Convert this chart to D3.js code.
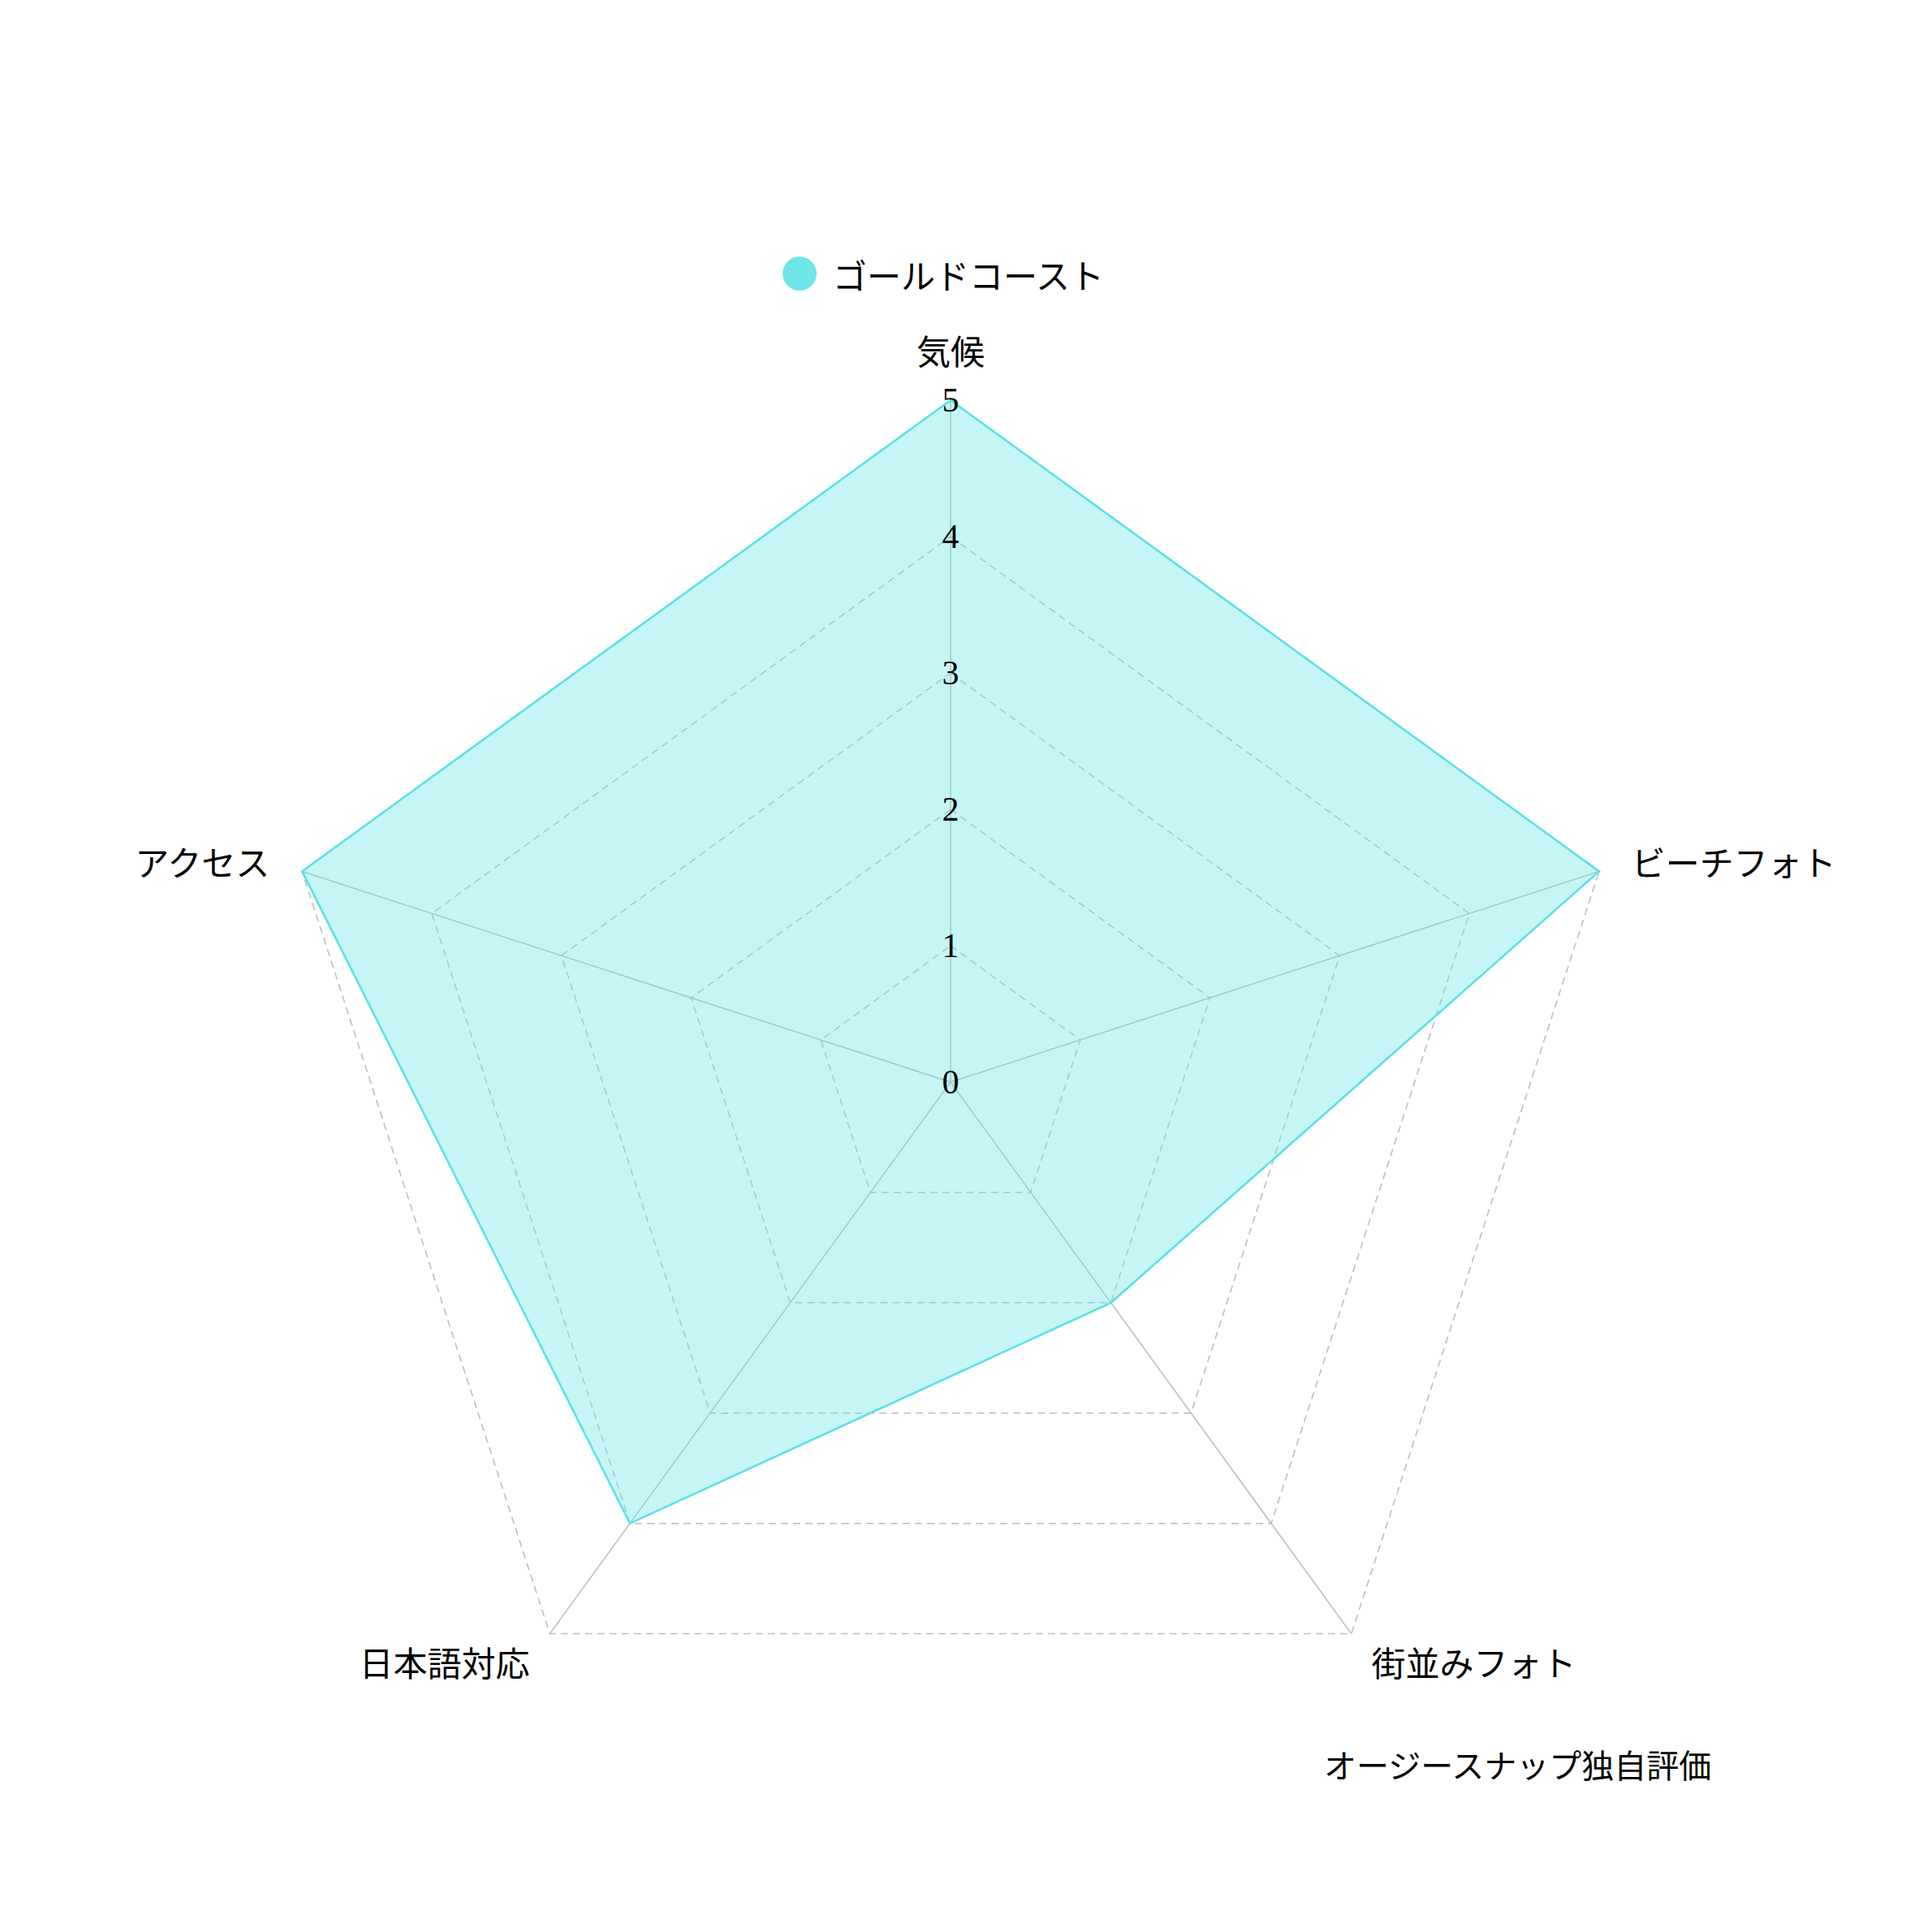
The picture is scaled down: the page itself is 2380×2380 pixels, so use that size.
<!DOCTYPE html>
<html>
<head>
<meta charset="utf-8">
<script src="https://cdn.jsdelivr.net/npm/d3@7/dist/d3.min.js"></script>
<style>
  html, body { margin: 0; padding: 0; background: #ffffff; }
  svg { display: block; }
</style>
</head>
<body>
<script>
// ---- data ----
const categories = ["気候", "ビーチフォト", "街並みフォト", "日本語対応", "アクセス"];
const seriesName = "ゴールドコースト";
const seriesValues = [5, 5, 2, 4, 5];
const tickValues = [0, 1, 2, 3, 4, 5];
const subtitle = "オージースナップ独自評価";

// ---- layout ----
const W = 2380, H = 2380;
const cx = 1171, cy = 1333, R = 840;
const jp = "'Noto Sans CJK JP', 'Noto Sans', sans-serif";
const serif = "'Liberation Serif', 'DejaVu Serif', serif";
const colFill = "#6ee6e6";
const colStroke = "#5ce1e6";
const gridCol = "#bbbbbb";

const svg = d3.select("body").append("svg")
  .attr("width", W).attr("height", H)
  .attr("viewBox", `0 0 ${W} ${H}`);
svg.append("rect").attr("width", W).attr("height", H).attr("fill", "#fff");

const r = d3.scaleLinear().domain([0, 5]).range([0, R]);
const ang = (i) => i * 2 * Math.PI / categories.length;
const pt = (i, rad) => [cx + rad * Math.sin(ang(i)), cy - rad * Math.cos(ang(i))];

const g = svg.append("g");

// rings (dashed)
tickValues.filter(v => v > 0).forEach(v => {
  const pts = categories.map((c, i) => pt(i, r(v)));
  g.append("path")
    .attr("d", d3.line()(pts) + "Z")
    .attr("fill", "none")
    .attr("stroke", gridCol)
    .attr("stroke-width", 1.5)
    .attr("stroke-dasharray", "9,6");
});

// spokes
categories.forEach((c, i) => {
  const [x, y] = pt(i, r(5));
  g.append("line")
    .attr("x1", cx).attr("y1", cy).attr("x2", x).attr("y2", y)
    .attr("stroke", gridCol).attr("stroke-width", 1.5);
});

// series polygon
const polyPts = seriesValues.map((v, i) => pt(i, r(v)));
g.append("path")
  .attr("d", d3.line()(polyPts) + "Z")
  .attr("fill", colFill).attr("fill-opacity", 0.4)
  .attr("stroke", colStroke).attr("stroke-width", 2.6)
  .attr("stroke-linejoin", "miter");

// category labels
categories.forEach((c, i) => {
  const a = ang(i);
  const sx = Math.sin(a);
  let [x, y] = pt(i, R + 42);
  let anchor = "middle";
  if (sx > 0.1) anchor = "start";
  else if (sx < -0.1) anchor = "end";
  if (i === 0) { y = cy - R - 63; }
  svg.append("text")
    .attr("x", x).attr("y", y)
    .attr("text-anchor", anchor)
    .attr("dominant-baseline", "central")
    .attr("font-family", jp)
    .attr("font-size", 42)
    .attr("fill", "#000")
    .text(c);
});

// tick labels along top axis
tickValues.forEach(v => {
  svg.append("text")
    .attr("x", cx).attr("y", cy - r(v))
    .attr("text-anchor", "middle")
    .attr("dominant-baseline", "central")
    .attr("font-family", serif)
    .attr("font-size", 42)
    .attr("fill", "#000")
    .text(v);
});

// legend
const lg = svg.append("g");
lg.append("circle").attr("cx", 985).attr("cy", 337).attr("r", 21).attr("fill", colFill);
lg.append("text")
  .attr("x", 1026).attr("y", 337)
  .attr("dominant-baseline", "central")
  .attr("font-family", jp).attr("font-size", 42)
  .attr("fill", "#000")
  .text(seriesName);

// subtitle
svg.append("text")
  .attr("x", 1631).attr("y", 2173)
  .attr("dominant-baseline", "central")
  .attr("font-family", jp).attr("font-size", 40)
  .attr("fill", "#000")
  .text(subtitle);
</script>
</body>
</html>
